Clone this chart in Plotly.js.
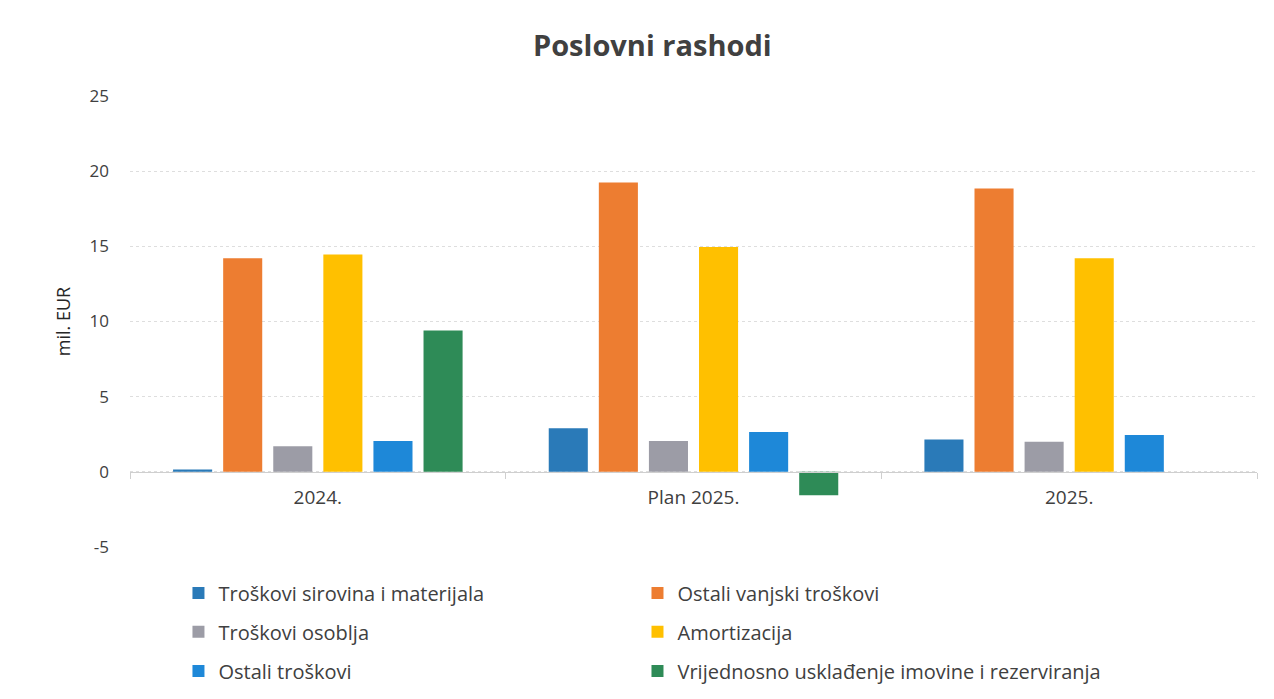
<!DOCTYPE html>
<html>
<head>
<meta charset="utf-8">
<script src="https://cdn.plot.ly/plotly-3.0.1.min.js"></script>
<style>html,body{margin:0;padding:0;background:#fff;}#chart{width:1274px;height:699px;}</style>
</head>
<body>
<div id="chart"></div>
<script>
const categories = ['2024.', 'Plan 2025.', '2025.'];
const seriesNames = ['Troškovi sirovina i materijala', 'Ostali vanjski troškovi', 'Troškovi osoblja', 'Amortizacija', 'Ostali troškovi', 'Vrijednosno usklađenje imovine i rezerviranja'];
const sirovina = [0.15, 2.9, 2.15];
const vanjski = [14.2, 19.25, 18.85];
const osoblja = [1.7, 2.05, 2.0];
const amortizacija = [14.45, 14.95, 14.2];
const ostali = [2.05, 2.65, 2.45];
const vrijednosno = [9.4, -1.55, null];
const yTicks = [-5, 0, 5, 10, 15, 20, 25];

const colors = ['#2A7AB8', '#ED7D31', '#9C9CA6', '#FFC000', '#1E88D8', '#2E8B57'];
const values = [sirovina, vanjski, osoblja, amortizacija, ostali, vrijednosno];
const legendIds = ['legend', 'legend2', 'legend3', 'legend4', 'legend5', 'legend6'];
const legendX = [0.043, 0.4503];
const legendY = [-0.102, -0.188, -0.275];

const traces = values.map((v, i) => ({
  type: 'bar', x: categories, y: v, name: seriesNames[i],
  marker: {color: colors[i]}, legend: legendIds[i], hoverinfo: 'x+y+name'
}));

const layout = {
  width: 1274, height: 699,
  margin: {l: 130, r: 17, t: 96, b: 152, autoexpand: false},
  paper_bgcolor: '#ffffff', plot_bgcolor: '#ffffff',
  title: {text: '<b>Poslovni rashodi</b>', x: 0.512, xanchor: 'center', y: 0.935, yanchor: 'middle',
          font: {family: 'Open Sans, sans-serif', size: 29, color: '#404040'}},
  barmode: 'group', bargap: 0.2, bargroupgap: 0.22,
  xaxis: {
    type: 'category',
    anchor: 'free', position: 5/30, showgrid: false,
    showline: true, linecolor: '#cfcfcf', linewidth: 1,
    ticks: 'outside', tickson: 'boundaries', ticklen: 6, tickcolor: '#cfcfcf',
    ticklabelstandoff: 8,
    tickfont: {family: 'Open Sans, sans-serif', size: 19, color: '#404040'},
    fixedrange: true
  },
  yaxis: {
    range: [-5, 25], tickvals: yTicks, ticktext: yTicks.map(String),
    showgrid: true, gridcolor: '#dedede', griddash: 'dot', zeroline: false,
    ticklabelstandoff: 20,
    tickfont: {family: 'Open Sans, sans-serif', size: 17, color: '#404040'},
    title: {text: 'mil. EUR', standoff: 14, font: {family: 'Open Sans, sans-serif', size: 18, color: '#262626'}},
    fixedrange: true
  },
  showlegend: true
};

legendIds.forEach((id, i) => {
  layout[id] = {
    orientation: 'h', xanchor: 'left', yanchor: 'middle',
    x: legendX[i % 2], y: legendY[Math.floor(i / 2)],
    font: {family: 'Open Sans, sans-serif', size: 20, color: '#404040'},
    bgcolor: 'rgba(0,0,0,0)'
  };
});

Plotly.newPlot('chart', traces, layout, {displayModeBar: false, staticPlot: false});
</script>
</body>
</html>
